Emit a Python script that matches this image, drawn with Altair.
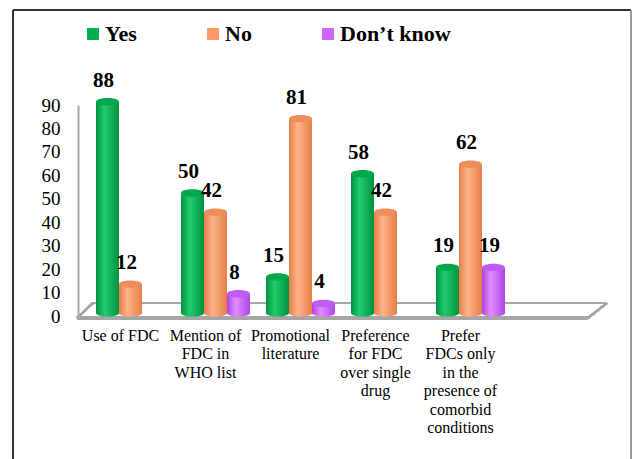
import altair as alt
import pandas as pd

# Survey responses (%) per question
categories = [
    "Use of FDC",
    "Mention of\nFDC in\nWHO list",
    "Promotional\nliterature",
    "Preference\nfor FDC\nover single\ndrug",
    "Prefer\nFDCs only\nin the\npresence of\ncomorbid\nconditions",
]
series = ["Yes", "No", "Don\u2019t know"]
yes_values = [88, 50, 15, 58, 19]
no_values = [12, 42, 81, 42, 62]
dont_know_values = [0, 8, 4, 0, 19]
y_ticks = [0, 10, 20, 30, 40, 50, 60, 70, 80, 90]

swatch = ["#00B050", "#FF9966", "#CC66FF"]

rows = []
for name, vals in zip(series, [yes_values, no_values, dont_know_values]):
    for cat, v in zip(categories, vals):
        rows.append({"category": cat, "series": name, "value": v})
df = pd.DataFrame(rows)

W, H = 510, 216
SERIF = "Liberation Serif"

x_enc = alt.X(
    "category:N",
    scale=alt.Scale(domain=categories + [""], paddingInner=0, paddingOuter=0),
    sort=None,
    axis=alt.Axis(
        title=None, domain=False, ticks=False, labelAngle=0,
        labelExpr="split(datum.label, '\\n')",
        labelFont=SERIF, labelFontSize=16, labelColor="#000000",
        labelLineHeight=18.5, labelPadding=14, labelBaseline="top",
    ),
)
xo_enc = alt.XOffset("series:N", scale=alt.Scale(domain=series, range=[18, 87]))
y_scale = alt.Scale(domain=[0, 90])
y_enc = alt.Y("value:Q", scale=y_scale, axis=None)

ellipse = "M-1,0A1,0.32,0,1,1,1,0A1,0.32,0,1,1,-1,0Z"
cap_size = 23 * 23

cyl_colors = {
    "Yes": ("#00913F", "#22CC6C", "#00A84C"),
    "No": ("#E47E48", "#FFB48A", "#EE8D5C"),
    "Don\u2019t know": ("#B244E6", "#E08CFF", "#C05CF2"),
}

base = alt.Chart(df).transform_filter("datum.value > 0")

layers = []

# floor of the plot
floor_color = "#A6A6A6"
layers.append(alt.Chart(df).mark_rule(color=floor_color, strokeWidth=2).encode(
    x=alt.value(15), x2=alt.value(529), y=alt.value(206), y2=alt.value(206)))
layers.append(alt.Chart(df).mark_rule(color=floor_color, strokeWidth=3).encode(
    x=alt.value(-1), x2=alt.value(510), y=alt.value(221), y2=alt.value(221)))
layers.append(alt.Chart(df).mark_rule(color=floor_color, strokeWidth=2).encode(
    x=alt.value(-1), x2=alt.value(15), y=alt.value(221), y2=alt.value(206)))
layers.append(alt.Chart(df).mark_rule(color=floor_color, strokeWidth=2).encode(
    x=alt.value(510), x2=alt.value(529), y=alt.value(221), y2=alt.value(206)))

# outer frame
layers.append(alt.Chart(df).mark_rule(color="#333333", strokeWidth=2).encode(
    x=alt.value(-65), x2=alt.value(-65), y=alt.value(-87), y2=alt.value(380)))
layers.append(alt.Chart(df).mark_rule(color="#333333", strokeWidth=2).encode(
    x=alt.value(-65), x2=alt.value(553), y=alt.value(-87), y2=alt.value(-87)))
layers.append(alt.Chart(df).mark_rule(color="#9A9A9A", strokeWidth=2).encode(
    x=alt.value(553), x2=alt.value(553), y=alt.value(-87), y2=alt.value(380)))

# cylinders: bottom ellipse, shaded body, top cap
for name in series:
    dark, light, cap = cyl_colors[name]
    grad = alt.Gradient(
        gradient="linear", x1=0, x2=1, y1=0, y2=0,
        stops=[
            alt.GradientStop(color=dark, offset=0),
            alt.GradientStop(color=light, offset=0.38),
            alt.GradientStop(color=dark, offset=1),
        ],
    )
    sel = base.transform_filter(alt.datum.series == name)
    layers.append(sel.mark_point(shape=ellipse, size=cap_size, filled=True, opacity=1,
                                 fill=grad, strokeWidth=0).encode(
        x=x_enc, xOffset=xo_enc, y=alt.Y("zero:Q", scale=y_scale, axis=None)
    ).transform_calculate(zero="0"))
    layers.append(sel.mark_bar(color=grad).encode(x=x_enc, xOffset=xo_enc, y=y_enc))
    layers.append(sel.mark_point(shape=ellipse, size=cap_size, filled=True, opacity=1,
                                 fill=cap, strokeWidth=0).encode(
        x=x_enc, xOffset=xo_enc, y=y_enc))

# value labels
layers.append(base.mark_text(font=SERIF, fontWeight="bold", fontSize=21,
                             baseline="alphabetic", dy=-15, dx=-4, color="#000000").encode(
    x=x_enc, xOffset=xo_enc, y=y_enc, text="value:Q"))

# legend
layers.append(alt.Chart(df).mark_square(opacity=0).encode(
    x=x_enc, xOffset=xo_enc, y=y_enc,
    color=alt.Color(
        "series:N",
        scale=alt.Scale(domain=series, range=swatch),
        legend=alt.Legend(
            title=None, orient="none", direction="horizontal",
            legendX=4, legendY=-74, columnPadding=65,
            symbolType="square", symbolSize=144, symbolOpacity=1, symbolStrokeWidth=0,
            labelFont=SERIF, labelFontWeight="bold", labelFontSize=22,
            labelColor="#000000", labelOffset=1, padding=0,
        ),
    ),
))

bars = alt.layer(*layers)

# value axis drawn on its own scale along the front edge
axis_df = pd.DataFrame({"tick": y_ticks})
axis_layer = alt.Chart(axis_df).mark_point(opacity=0).encode(
    y=alt.Y("tick:Q",
            scale=alt.Scale(domain=[0, 90], range=[219, 8]),
            axis=alt.Axis(
                title=None, orient="left", values=y_ticks, grid=False, ticks=False,
                domainColor="#A6A6A6", domainWidth=2,
                labelFont=SERIF, labelFontSize=19, labelColor="#000000",
                labelPadding=18,
            )),
)

chart = alt.layer(bars, axis_layer).resolve_scale(y="independent").properties(
    width=W, height=H,
    autosize=alt.AutoSizeParams(type="none"),
    padding={"left": 78, "top": 97, "right": 633 - 78 - W, "bottom": 459 - 97 - H},
    background="#FFFFFF",
).configure_view(stroke=None)

chart.save("out.html", embed_options={"renderer": "svg", "actions": False})
